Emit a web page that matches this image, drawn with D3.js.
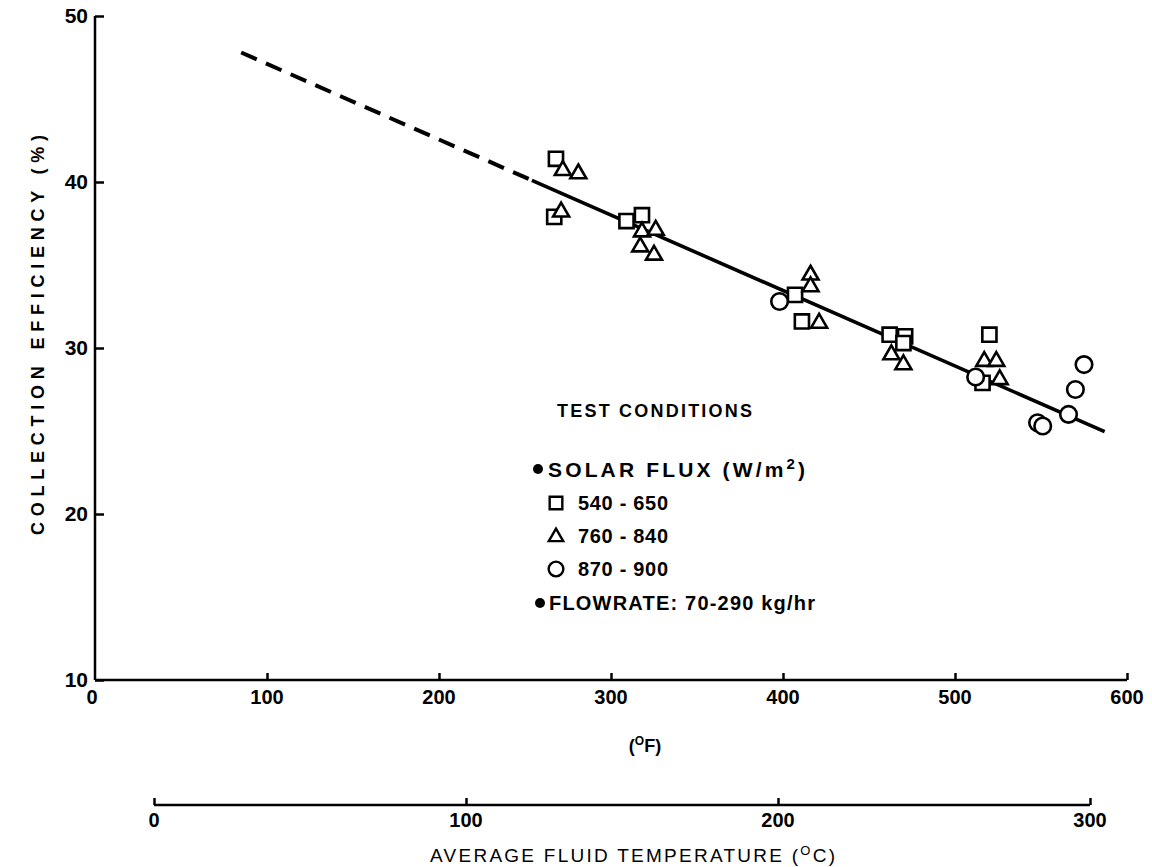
<!DOCTYPE html>
<html>
<head>
<meta charset="utf-8">
<script src="https://cdn.jsdelivr.net/npm/d3@7"></script>
<style>
  body { margin: 0; background: #fff; }
  text { font-family: "Liberation Sans", Arial, sans-serif; font-weight: bold; fill: #000; }
</style>
</head>
<body>
<div class="chart"></div>
<script>
    /* data */
    const sqF = [268, 267, 309, 318, 407, 411, 462, 471, 470, 520, 516];
    const sqE = [41.4, 37.9, 37.65, 38.0, 33.2, 31.6, 30.8, 30.7, 30.3, 30.8, 27.9];

    const triF = [272, 281, 271, 318, 326, 317, 325, 416, 416, 421, 463, 470, 517, 524, 526];
    const triE = [40.7, 40.5, 38.2, 37.0, 37.1, 36.1, 35.6, 34.4, 33.7, 31.5, 29.6, 29.0, 29.2, 29.2, 28.1];

    const cirF = [398, 512, 548, 551, 566, 570, 575];
    const cirE = [32.8, 28.25, 25.5, 25.3, 26.0, 27.5, 29.0];

    // fitted line: dashed part then solid part
    const dashF = [85, 254];
    const dashE = [47.8, 40.1];
    const solidF = [254, 587];
    const solidE = [40.1, 24.96];

    const yTicks = [10, 20, 30, 40, 50];
    const fTicks = [0, 100, 200, 300, 400, 500, 600];
    const cTicks = [0, 100, 200, 300];

    const legendItems = ["540 - 650", "760 - 840", "870 - 900"];

    const W = 1152, H = 867;

    const svg = d3.select(".chart").append("svg")
      .attr("width", W)
      .attr("height", H);

    /* scales */
    const x = d3.scaleLinear().domain([0, 600]).range([95, 1127]);
    const y = d3.scaleLinear().domain([10, 50]).range([680, 16]);
    const xc = d3.scaleLinear().domain([0, 300]).range([154, 1090]);

    /* axes */
    const yAxis = d3.axisRight(y).tickValues(yTicks).tickSize(9).tickFormat("");
    svg.append("g")
      .attr("class", "y-axis")
      .attr("transform", "translate(95,0)")
      .call(yAxis)
      .call(g => g.select(".domain").attr("d", `M0,${y(50)}V${y(10)}`));

    svg.selectAll(".ylab")
      .data(yTicks)
      .enter().append("text")
      .attr("class", "ylab")
      .attr("x", 88)
      .attr("y", d => y(d) + 7)
      .attr("text-anchor", "end")
      .style("font-size", "21px")
      .text(d => d);

    const xAxis = d3.axisTop(x).tickValues(fTicks.slice(1)).tickSize(7).tickFormat("");
    svg.append("g")
      .attr("class", "x-axis")
      .attr("transform", "translate(0,680)")
      .call(xAxis)
      .call(g => g.select(".domain").attr("d", `M${x(0)},0H${x(600)}`));

    svg.selectAll(".xlab")
      .data(fTicks)
      .enter().append("text")
      .attr("class", "xlab")
      .attr("x", d => d === 0 ? x(d) - 3 : x(d))
      .attr("y", 704)
      .attr("text-anchor", "middle")
      .style("font-size", "20px")
      .text(d => d);

    const cAxis = d3.axisTop(xc).tickValues(cTicks).tickSize(7).tickFormat("");
    svg.append("g")
      .attr("class", "c-axis")
      .attr("transform", "translate(0,805)")
      .call(cAxis)
      .call(g => g.select(".domain").attr("d", `M${xc(0)},0H${xc(300)}`));

    svg.selectAll(".clab")
      .data(cTicks)
      .enter().append("text")
      .attr("class", "clab")
      .attr("x", d => xc(d))
      .attr("y", 827)
      .attr("text-anchor", "middle")
      .style("font-size", "20px")
      .text(d => d);

    svg.selectAll(".domain, .tick line")
      .attr("stroke", "#000")
      .attr("stroke-width", 2.5);

    /* axis titles */
    const fLab = svg.append("text")
      .attr("x", 645).attr("y", 752)
      .attr("text-anchor", "middle")
      .style("font-size", "18px");
    fLab.append("tspan").text("(");
    fLab.append("tspan").attr("dy", -7).style("font-size", "12px").text("O");
    fLab.append("tspan").attr("dy", 7).text("F)");

    const cLab = svg.append("text")
      .attr("x", 430).attr("y", 862)
      .attr("textLength", 405)
      .attr("lengthAdjust", "spacing")
      .style("font-size", "19px")
      .style("font-weight", "normal");
    cLab.append("tspan").text("AVERAGE FLUID TEMPERATURE (");
    cLab.append("tspan").attr("dy", -7).style("font-size", "13px").text("O");
    cLab.append("tspan").attr("dy", 7).text("C)");

    svg.append("text")
      .attr("transform", "translate(44,335) rotate(-90)")
      .attr("text-anchor", "middle")
      .attr("textLength", 400)
      .attr("lengthAdjust", "spacing")
      .style("font-size", "18px")
      .text("COLLECTION EFFICIENCY (%)");

    /* fit line */
    const line = d3.line().x(d => x(d[0])).y(d => y(d[1]));

    svg.append("path")
      .datum(d3.zip(dashF, dashE))
      .attr("d", line)
      .attr("fill", "none")
      .attr("stroke", "#000")
      .attr("stroke-width", 4)
      .attr("stroke-dasharray", "17,10");

    svg.append("path")
      .datum(d3.zip(solidF, solidE))
      .attr("d", line)
      .attr("fill", "none")
      .attr("stroke", "#000")
      .attr("stroke-width", 3.6);

    /* markers */
    const shapes = [
      {f: sqF, e: sqE, sym: d3.symbol().type(d3.symbolSquare).size(200)},
      {f: triF, e: triE, sym: d3.symbol().type(d3.symbolTriangle).size(110)},
      {f: cirF, e: cirE, sym: d3.symbol().type(d3.symbolCircle).size(215)}
    ];

    shapes.forEach(s => {
      svg.append("g").selectAll("path")
        .data(d3.zip(s.f, s.e))
        .enter().append("path")
        .attr("transform", d => `translate(${x(d[0])},${y(d[1])})`)
        .attr("d", s.sym)
        .attr("fill", "#fff")
        .attr("stroke", "#000")
        .attr("stroke-width", 2.6);
    });

    /* legend */
    const lg = svg.append("g");

    lg.append("text")
      .attr("x", 557).attr("y", 417)
      .attr("textLength", 195)
      .attr("lengthAdjust", "spacing")
      .style("font-size", "18px")
      .text("TEST CONDITIONS");

    lg.append("circle").attr("cx", 538).attr("cy", 469).attr("r", 5).attr("fill", "#000");
    const sf = lg.append("text")
      .attr("x", 548).attr("y", 477)
      .attr("textLength", 257)
      .attr("lengthAdjust", "spacing")
      .style("font-size", "21px");
    sf.append("tspan").text("SOLAR FLUX (W/m");
    sf.append("tspan").attr("dy", -8).style("font-size", "15px").text("2");
    sf.append("tspan").attr("dy", 8).text(")");

    const legSyms = [
      d3.symbol().type(d3.symbolSquare).size(160),
      d3.symbol().type(d3.symbolTriangle).size(90),
      d3.symbol().type(d3.symbolCircle).size(170)
    ];
    const legY = [503, 536, 569];

    legendItems.forEach((t, i) => {
      lg.append("path")
        .attr("transform", `translate(556,${legY[i] + (i === 1 ? 1 : 0)})`)
        .attr("d", legSyms[i])
        .attr("fill", "#fff")
        .attr("stroke", "#000")
        .attr("stroke-width", 2.4);
      lg.append("text")
        .attr("x", 578).attr("y", legY[i] + 7)
        .attr("textLength", 90)
        .attr("lengthAdjust", "spacing")
        .style("font-size", "20px")
        .text(t);
    });

    lg.append("circle").attr("cx", 540).attr("cy", 603).attr("r", 5).attr("fill", "#000");
    lg.append("text")
      .attr("x", 549).attr("y", 610)
      .attr("textLength", 266)
      .attr("lengthAdjust", "spacing")
      .style("font-size", "20px")
      .text("FLOWRATE:  70-290 kg/hr");
</script>
</body>
</html>
